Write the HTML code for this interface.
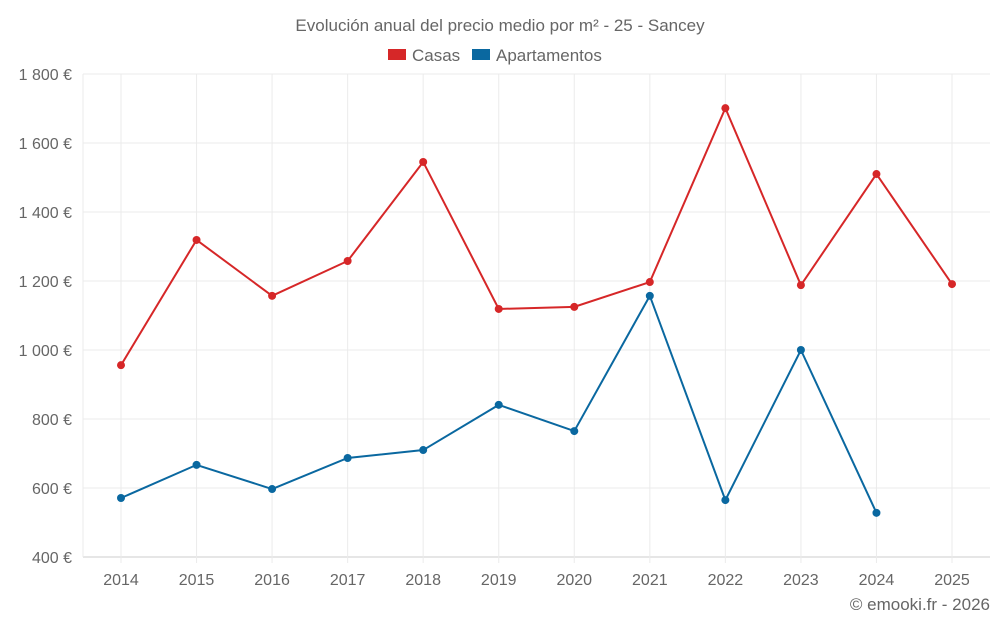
<!DOCTYPE html>
<html><head><meta charset="utf-8"><style>
body{margin:0;background:#fff;font-family:"Liberation Sans",sans-serif;}
svg text{font-family:"Liberation Sans",sans-serif;fill:#666;}
</style></head><body>
<svg id="c" width="1000" height="625">
<text x="500" y="31" text-anchor="middle" font-size="17">Evolución anual del precio medio por m² - 25 - Sancey</text>
<g>
<rect x="388" y="49" width="18" height="11" fill="#d62728"/>
<text x="412" y="61" font-size="17">Casas</text>
<rect x="472" y="49" width="18" height="11" fill="#0a68a0"/>
<text x="496" y="61" font-size="17">Apartamentos</text>
</g>
<g id="grid"></g><g id="axes"></g><g id="series"></g>
<text x="990" y="610" text-anchor="end" font-size="17">© emooki.fr - 2026</text>
</svg>
<script>
const years=["2014","2015","2016","2017","2018","2019","2020","2021","2022","2023","2024","2025"];
const casas=[956,1319,1157,1258,1545,1119,1125,1197,1701,1188,1510,1191];
const apartamentos=[571,667,597,687,710,841,765,1157,565,1000,528,null];
const yTicks=[400,600,800,1000,1200,1400,1600,1800];
const yTickLabels=["400 €","600 €","800 €","1 000 €","1 200 €","1 400 €","1 600 €","1 800 €"];
const NS="http://www.w3.org/2000/svg";
const L=83,R=990,T=74,B=557;
const y=v=>B-(v-400)/(1400)*(B-T);
const x=i=>121+i*(952-121)/(years.length-1);
function mk(t,a,p){const e=document.createElementNS(NS,t);for(const k in a)e.setAttribute(k,a[k]);p.appendChild(e);return e;}
const g=document.getElementById('grid'),ax=document.getElementById('axes'),s=document.getElementById('series');
yTicks.forEach((v,i)=>{
 const ln=mk('line',{x1:L,x2:R,y1:y(v),y2:y(v),stroke:i==0?'#ccc':'#ebebeb'},g);
 
 
 const t=mk('text',{x:72,y:y(v)+6,'text-anchor':'end','font-size':16},ax);
 t.textContent=yTickLabels[i];
 
 
});
const lv=mk('line',{x1:L,x2:L,y1:T,y2:B,stroke:'#ebebeb'},g);


years.forEach((yr,i)=>{
 const ln=mk('line',{x1:x(i),x2:x(i),y1:T,y2:B+6,stroke:'#ebebeb'},g);
 
 
 const t=mk('text',{x:x(i),y:585,'text-anchor':'middle','font-size':16},ax);
 t.textContent=yr;
 
 
});
function draw(data,color,name){
 let d='';data.forEach((v,i)=>{if(v==null)return;d+=(d?'L':'M')+x(i)+','+y(v);});
 const p=mk('path',{d:d,fill:'none',stroke:color,'stroke-width':2},s);
 
 
 data.forEach((v,i)=>{if(v==null)return;
  const c=mk('circle',{cx:x(i),cy:y(v),r:4,fill:color},s);
  
  
 });
}
draw(casas,'#d62728','casas');
draw(apartamentos,'#0a68a0','apartamentos');
</script>
</body></html>
